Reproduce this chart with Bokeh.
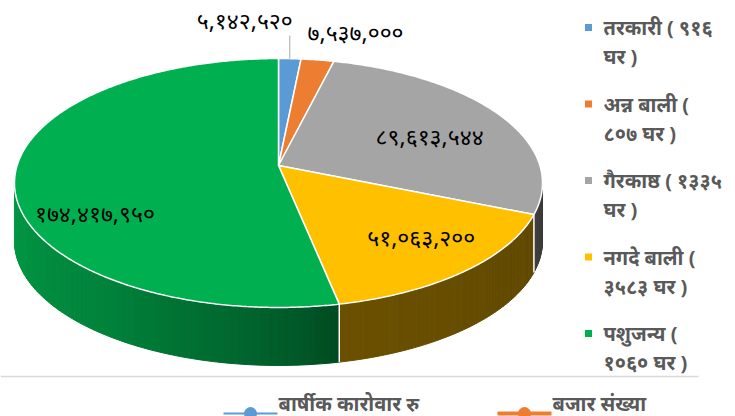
import numpy as np
from bokeh.plotting import figure
from bokeh.models import Range1d
from bokeh.core.properties import value
from bokeh.embed import file_html
from bokeh.resources import INLINE

# ---------------- data ----------------
categories = ["तरकारी", "अन्न बाली", "गैरकाष्ठ", "नगदे बाली", "पशुजन्य"]
households = ["९१६", "८०७", "१३३५", "३५८३", "१०६०"]
legend_line1 = [" तरकारी ( ९१६", "अन्न बाली (", "गैरकाष्ठ ( १३३५", "नगदे बाली (", "पशुजन्य ("]
legend_line2 = ["घर )", "८०७ घर )", "घर )", "३५८३ घर )", "१०६० घर )"]
annual_turnover = [5142520, 7537000, 89613544, 51063200, 174417950]
series_names = ["बार्षीक कारोवार रु", "बजार संख्या"]
colors = ["#5B9BD5", "#ED7D31", "#A5A5A5", "#FFC000", "#00B050"]
series_colors = ["#5B9BD5", "#ED7D31"]

DEV = str.maketrans("0123456789", "०१२३४५६७८९")
value_labels = [f"{v:,}".translate(DEV) for v in annual_turnover]

FONT = "Noto Sans"
W, H = 735, 416

# ---------------- geometry (perspective ellipse) ----------------
CX, CY = 278.0, 165.0
A, B, K = 261.4, 122.0, 0.1405
D = 58.0

def proj(theta, r=1.0):
    u = r * np.sin(theta)
    v = r * np.cos(theta)
    w = 1 + K * v
    return CX + A * u / w, CY - B * v / w

vals = np.array(annual_turnover, dtype=float)
frac = vals / vals.sum()
ends = np.cumsum(frac) * 2 * np.pi
starts = ends - frac * 2 * np.pi

p = figure(width=W, height=H, x_range=Range1d(0, W), y_range=Range1d(H, 0),
           output_backend="svg", toolbar_location=None, min_border=0,
           background_fill_color="white", border_fill_color="white")
p.axis.visible = False
p.grid.visible = False
p.outline_line_color = None

def shade(hexc, f):
    h = hexc.lstrip("#")
    rgb = [int(h[i:i + 2], 16) for i in (0, 2, 4)]
    return "#%02x%02x%02x" % tuple(max(0, min(255, int(c * f))) for c in rgb)

# visible side range
t_vis0 = np.arccos(-K)
t_vis1 = 2 * np.pi - t_vis0
shade_deg = [98, 112, 168, 176, 190, 215, 262]
shade_f = [0.36, 0.38, 0.42, 0.50, 0.60, 0.74, 0.88]

sx, sy, sc = [], [], []
for s, e, c in zip(starts, ends, colors):
    a0, a1 = max(s, t_vis0), min(e, t_vis1)
    if a1 <= a0:
        continue
    n = max(2, int(np.degrees(a1 - a0)))
    ts = np.linspace(a0, a1, n + 1)
    for t0, t1 in zip(ts[:-1], ts[1:]):
        x0, y0 = proj(t0)
        x1, y1 = proj(t1)
        sx.append([x0, x1, x1, x0])
        sy.append([y0, y1, y1 + D, y0 + D])
        f = np.interp(np.degrees((t0 + t1) / 2), shade_deg, shade_f)
        sc.append(shade(c, f))
p.patches(xs=sx, ys=sy, fill_color=sc, line_color=sc, line_width=1)

# white separators on the side
for b in list(starts) + [ends[-1]]:
    if t_vis0 < b < t_vis1:
        x0, y0 = proj(b)
        p.line([x0, x0], [y0, y0 + D], line_color="white", line_width=1.5)

# top face slices
tx, ty = [], []
for s, e in zip(starts, ends):
    n = max(4, int(np.degrees(e - s) * 2))
    ts = np.linspace(s, e, n + 1)
    xs, ys = proj(ts)
    tx.append([CX] + list(xs))
    ty.append([CY] + list(ys))
p.patches(xs=tx, ys=ty, fill_color=colors, line_color="white", line_width=1.5)

# ---------------- data labels ----------------
LBL = "23px"
inside = {2: (0.54, 0.65), 3: (0.44, 0.74), 4: (0.38, 0.76)}
lx, ly, lt = [], [], []
for i, (pos, r) in inside.items():
    t = starts[i] + pos * (ends[i] - starts[i])
    x, y = proj(t, r)
    lx.append(x); ly.append(y); lt.append(value_labels[i])
p.text(x=lx, y=ly, text=lt, text_align="center", text_baseline="middle",
       text_font=value(FONT), text_font_size=LBL, text_color="#000000")

mb = (starts[0] + ends[0]) / 2
bx, by = proj(mb)
p.line([bx, bx], [by, by - 23], line_color="#A6A6A6", line_width=1)
p.text(x=[bx + 3], y=[by - 39], text=[value_labels[0]], text_align="right",
       text_baseline="middle", text_font=value(FONT), text_font_size=LBL,
       text_color="#000000")
mo = (starts[1] + ends[1]) / 2
ox, oy = proj(mo)
p.text(x=[ox - 10], y=[oy - 28], text=[value_labels[1]], text_align="left",
       text_baseline="middle", text_font=value(FONT), text_font_size=LBL,
       text_color="#000000")

# ---------------- right legend ----------------
ly1 = [27 + i * 76.5 for i in range(len(categories))]
ly2 = [y + 29 for y in ly1]
p.rect(x=[588] * len(ly1), y=ly1, width=7, height=7, fill_color=colors, line_color=None)
p.text(x=[603] * len(ly1), y=ly1, text=legend_line1, text_baseline="middle",
       text_font=value(FONT), text_font_size="20px", text_font_style="bold",
       text_color="#595959")
p.text(x=[603] * len(ly2), y=ly2, text=legend_line2, text_baseline="middle",
       text_font=value(FONT), text_font_size="20px", text_font_style="bold",
       text_color="#595959")

# separator line
p.line([0, 698], [376, 376], line_color="#D9D9D9", line_width=1.5)

# ---------------- bottom legend ----------------
leg_x = [223, 497]
for i, (name, c) in enumerate(zip(series_names, series_colors)):
    x0 = leg_x[i]
    p.line([x0, x0 + 54], [413, 413], line_color=c, line_width=2 if i == 0 else 4)
    p.scatter([x0 + 27], [413], size=12, marker="circle", fill_color=c, line_color=c)
    p.text(x=[x0 + 55], y=[403], text=[name], text_baseline="middle",
           text_font=value(FONT), text_font_size="20px", text_font_style="bold",
           text_color="#595959")

open("out.html", "w").write(file_html(p, INLINE))
